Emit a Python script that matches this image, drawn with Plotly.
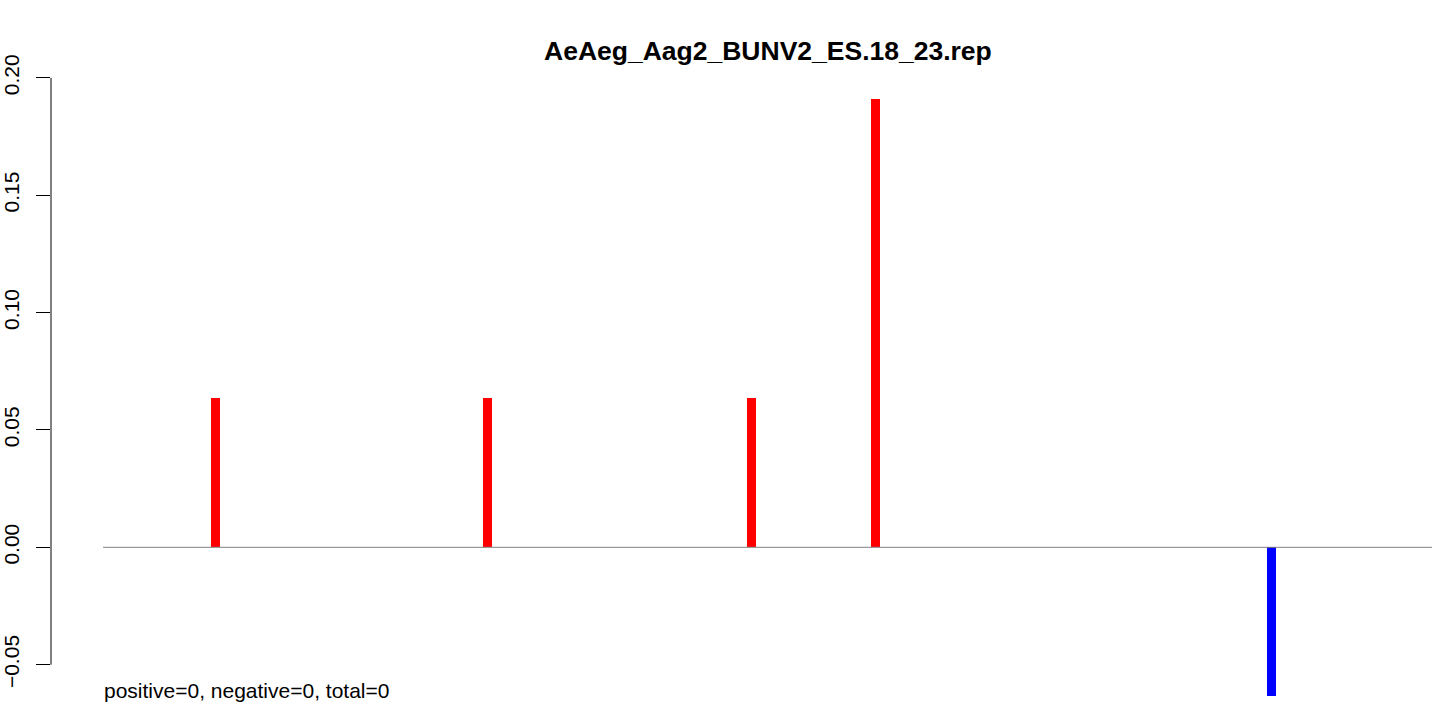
import plotly.graph_objects as go

# data
positions = [164.4, 436.5, 700.5, 824.5, 1220.5]
values = [0.0638, 0.0638, 0.0638, 0.1908, -0.0635]
colors = ["#FF0000" if v > 0 else "#0000FF" for v in values]
line_x = [52, 1381]
line_y = [0, 0]
ytick_vals = [-0.05, 0.0, 0.05, 0.10, 0.15, 0.20]
ytick_text = ["\u22120.05", "0.00", "0.05", "0.10", "0.15", "0.20"]
title_text = "AeAeg_Aag2_BUNV2_ES.18_23.rep"
footer_text = "positive=0, negative=0, total=0"

W, H = 1444, 708
L, R, T, B = 51, 0, 0, 0
FONT = "Liberation Sans, Arial, Helvetica, sans-serif"

fig = go.Figure()
fig.add_trace(go.Scatter(x=line_x, y=line_y, mode="lines",
                         line=dict(color="#808080", width=1),
                         hoverinfo="skip", showlegend=False))
fig.add_trace(go.Bar(x=positions, y=values, width=9, marker=dict(color=colors, line=dict(width=0)),
                     showlegend=False))

fig.add_shape(type="line", xref="paper", yref="y", x0=0, x1=0, y0=-0.05, y1=0.20,
              line=dict(color="black", width=1))

fig.add_annotation(text="<b>" + title_text + "</b>", xref="paper", yref="paper",
                   x=(768.5 - L) / (W - L - R), y=1 - 51 / H, xanchor="center", yanchor="middle",
                   showarrow=False, font=dict(size=26.5, color="black", family=FONT))
fig.add_annotation(text=footer_text, xref="paper", yref="paper",
                   x=(102 - L) / (W - L - R), y=1 - 690 / H, xanchor="left", yanchor="middle",
                   showarrow=False, font=dict(size=21, color="black", family=FONT))

fig.update_layout(
    width=W, height=H,
    margin=dict(l=L, r=R, t=T, b=B, pad=0),
    paper_bgcolor="white", plot_bgcolor="white",
    font=dict(family=FONT, color="black"),
    bargap=0,
    xaxis=dict(range=[0, W - L - R], visible=False, showgrid=False, zeroline=False),
    yaxis=dict(range=[-160.7 / 2347, 547.3 / 2347], tickvals=ytick_vals, ticktext=ytick_text,
               tickangle=-90, ticks="outside", ticklen=14, tickwidth=1, tickcolor="black",
               ticklabelstandoff=9,
               showline=False, showgrid=False, zeroline=False,
               tickfont=dict(size=21, color="black", family=FONT)),
)

fig.write_html("out.html", config={"displayModeBar": False},
               post_script="document.body.style.margin='0';document.body.style.overflow='hidden';")
